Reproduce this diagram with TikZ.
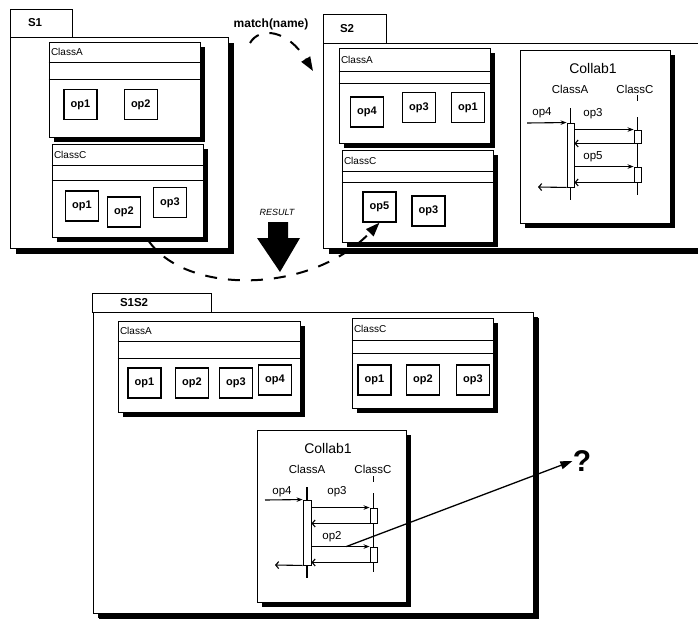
\documentclass[tikz,border=0pt]{standalone}
\usepackage{fontspec}
\setmainfont{Liberation Sans}
\usetikzlibrary{arrows.meta,positioning,shadows}

\begin{document}
\begin{tikzpicture}[x=1pt, y=-1pt, line width=0.9pt,
  hardshadow/.style={drop shadow={shadow xshift=#1, shadow yshift=-#1, fill=black, opacity=1}},
  pkgtab/.style={draw, fill=white, inner sep=0pt},
  pkgname/.style={anchor=west, inner sep=0pt, font=\bfseries\fontsize{11.5}{13}\selectfont},
  pkgbody/.style={draw, fill=white, inner sep=0pt, hardshadow=6pt},
  classbox/.style={draw, fill=white, inner sep=0pt, hardshadow=5pt},
  classname/.style={anchor=west, inner sep=2pt, font=\fontsize{10}{12}\selectfont},
  opbox/.style={draw, fill=white, line width=1.3pt, minimum width=33, minimum height=30, inner sep=0pt, font=\bfseries\fontsize{11}{13}\selectfont},
  colltitle/.style={inner sep=1pt, font=\fontsize{14}{16}\selectfont},
  lifename/.style={inner sep=1pt, font=\fontsize{11.5}{13}\selectfont},
  lifeline/.style={line width=1.3pt},
  actbar/.style={draw, fill=white, inner sep=0pt, minimum width=7},
  msg/.style={inner sep=1pt, font=\fontsize{11.5}{13}\selectfont},
  call/.style={line width=1.1pt, -{Stealth[length=6pt,width=4.5pt]}},
  ret/.style={line width=1.1pt, -{Straight Barb[length=3pt,width=7pt]}},
  flow/.style={line width=2pt, dash pattern=on 12pt off 11pt, -{Triangle[length=14pt,width=10pt]}}]
  \fill[white] (0,0) rectangle (698,618);
  \useasboundingbox (0,0) rectangle (698,618);
  \clip (0,0) rectangle (698,618);

  % package S1
  \node[pkgtab, minimum width=62, minimum height=28] (s1tab) at (41,23) {};
  \node[pkgname] (s1name) at ([xshift=18pt]s1tab.west) {S1};
  \node[pkgbody, minimum width=218, minimum height=211] (s1) at (119,142.5) {};

  \node[classbox, minimum width=151, minimum height=95] (s1a) at (124.5,89.5) {};
  \node[classname] (s1aname) at ([yshift=-10.5pt]s1a.north west) {ClassA};
  \draw ([yshift=-21pt]s1a.north west) -- ([yshift=-21pt]s1a.north east);
  \draw ([yshift=-38pt]s1a.north west) -- ([yshift=-38pt]s1a.north east);
  \node[opbox] (s1a1) at (80.5,104.5) {op1};
  \node[opbox, right=26pt of s1a1] (s1a2) {op2};

  \node[classbox, minimum width=151, minimum height=93] (s1c) at (127.5,190.5) {};
  \node[classname] (s1cname) at ([yshift=-11pt]s1c.north west) {ClassC};
  \draw ([yshift=-22pt]s1c.north west) -- ([yshift=-22pt]s1c.north east);
  \draw ([yshift=-37pt]s1c.north west) -- ([yshift=-37pt]s1c.north east);
  \node[opbox] (s1c1) at (82,206) {op1};
  \node[opbox] (s1c2) at (124,212) {op2};
  \node[opbox] (s1c3) at (170,202.5) {op3};

  % package S2
  \node[pkgtab, minimum width=63, minimum height=29] (s2tab) at (354.5,28.5) {};
  \node[pkgname] (s2name) at ([xshift=17pt]s2tab.west) {S2};
  \node[pkgbody, minimum width=390, minimum height=205] (s2) at (518,145.5) {};

  \node[classbox, minimum width=151, minimum height=95] (s2a) at (414.5,95.5) {};
  \node[classname] (s2aname) at ([yshift=-12pt]s2a.north west) {ClassA};
  \draw ([yshift=-24pt]s2a.north west) -- ([yshift=-24pt]s2a.north east);
  \draw ([yshift=-36pt]s2a.north west) -- ([yshift=-36pt]s2a.north east);
  \node[opbox, line width=1.8pt] (s2a4) at (367,112) {op4};
  \node[opbox] (s2a3) at (419,107.5) {op3};
  \node[opbox] (s2a1) at (468,107.5) {op1};

  \node[classbox, minimum width=151, minimum height=92] (s2c) at (417.5,196) {};
  \node[classname] (s2cname) at ([yshift=-11pt]s2c.north west) {ClassC};
  \draw ([yshift=-22pt]s2c.north west) -- ([yshift=-22pt]s2c.north east);
  \draw ([yshift=-33pt]s2c.north west) -- ([yshift=-33pt]s2c.north east);
  \node[opbox] (s2c5) at (379.5,207) {op5};
  \node[opbox] (s2c3) at (428.5,211) {op3};

  % Collab1 in S2
  \node[classbox, minimum width=150, minimum height=173] (s2k) at (595,136.5) {};
  \node[colltitle] (s2ktitle) at (593,68) {Collab1};
  \node[lifename] (s2ka) at (570,89) {ClassA};
  \node[lifename] (s2kc) at (635,89) {ClassC};
  \draw[lifeline] (570.5,108) -- (570.5,200);
  \draw[lifeline] (637.5,95) -- (637.5,101) (637.5,117) -- (637.5,195);
  \node[actbar, minimum height=64] (s2bar) at (570.5,155) {};
  \node[actbar, minimum height=13] (s2box1) at (637.5,136.5) {};
  \node[actbar, minimum height=15] (s2box2) at (637.5,174.5) {};
  \coordinate (s2in) at (527,123);
  \coordinate (s2out) at (538,187);
  \draw[call] (s2in) -- (s2bar.north west);
  \draw[call] (s2bar.east |- s2box1.north) -- (s2box1.north west);
  \draw[ret] (s2box1.south west) -- (s2bar.east |- s2box1.south);
  \draw[call] (s2bar.east |- s2box2.north) -- (s2box2.north west);
  \draw[ret] (s2box2.south west) -- (s2bar.east |- s2box2.south);
  \draw[ret] (s2bar.south west) -- (s2out);
  \node[msg] (s2m4) at (542,113) {op4};
  \node[msg] (s2m3) at (593,114) {op3};
  \node[msg] (s2m5) at (593,157) {op5};

  % package S1S2
  \node[pkgtab, minimum width=119, minimum height=19] (rtab) at (151.5,302.5) {};
  \node[pkgname] (rname) at ([xshift=28pt]rtab.west) {S1S2};
  \node[pkgbody, hardshadow=5pt, minimum width=440, minimum height=301] (r) at (313,462.5) {};

  \node[classbox, minimum width=182, minimum height=91] (ra) at (209,366.5) {};
  \node[classname] (raname) at ([yshift=-10.5pt]ra.north west) {ClassA};
  \draw ([yshift=-21pt]ra.north west) -- ([yshift=-21pt]ra.north east);
  \draw ([yshift=-38pt]ra.north west) -- ([yshift=-38pt]ra.north east);
  \node[opbox] (ra1) at (144.5,383) {op1};
  \node[opbox] (ra2) at (192,383) {op2};
  \node[opbox] (ra3) at (236,383) {op3};
  \node[opbox] (ra4) at (275,380) {op4};

  \node[classbox, minimum width=141, minimum height=90] (rc) at (422.5,363) {};
  \node[classname] (rcname) at ([yshift=-11pt]rc.north west) {ClassC};
  \draw ([yshift=-23pt]rc.north west) -- ([yshift=-23pt]rc.north east);
  \draw ([yshift=-36pt]rc.north west) -- ([yshift=-36pt]rc.north east);
  \node[opbox] (rc1) at (374.5,380) {op1};
  \node[opbox] (rc2) at (423,380) {op2};
  \node[opbox] (rc3) at (473,380) {op3};

  % Collab1 in S1S2
  \node[classbox, minimum width=149, minimum height=172] (rk) at (331.5,516) {};
  \node[colltitle] (rktitle) at (328,448) {Collab1};
  \node[lifename] (rka) at (307,469) {ClassA};
  \node[lifename] (rkc) at (373,469) {ClassC};
  \draw[lifeline] (307,487) -- (307,578);
  \draw[lifeline] (373.5,476) -- (373.5,482) (373.5,493) -- (373.5,572);
  \node[actbar, minimum width=8, minimum height=65] (rbar) at (307,532.5) {};
  \node[actbar, minimum height=15] (rbox1) at (373.5,515.5) {};
  \node[actbar, minimum height=15] (rbox2) at (373.5,554.5) {};
  \coordinate (rin) at (265,500);
  \coordinate (rout) at (275,565);
  \draw[call] (rin) -- (rbar.north west);
  \draw[call] (rbar.east |- rbox1.north) -- (rbox1.north west);
  \draw[ret] (rbox1.south west) -- (rbar.east |- rbox1.south);
  \draw[call] (rbar.east |- rbox2.north) -- coordinate[pos=0.6] (rq0) (rbox2.north west);
  \draw[ret] (rbox2.south west) -- (rbar.east |- rbox2.south);
  \draw[ret] (rbar.south west) -- (rout);
  \node[msg] (rm4) at (282,492) {op4};
  \node[msg] (rm3) at (337,492) {op3};
  \node[msg] (rm2) at (332,537) {op2};

  \node[inner sep=0pt, font=\bfseries\fontsize{30}{30}\selectfont] (qmark) at (582,461) {?};
  \draw[line width=1.3pt, -{Triangle[length=12pt,width=8pt]}] (rq0) -- (qmark.west);

  % match and result
  \node[font=\bfseries\fontsize{12}{14}\selectfont, inner sep=1pt] (match) at (271,24) {match(name)};
  \coordinate (m0) at (250,43);
  \coordinate (m1) at (313,71);
  \draw[flow] (m0) .. controls (260,26) and (288,30) .. (m1);

  \node[font=\itshape\fontsize{9}{11}\selectfont, inner sep=1pt] (result) at (277,212) {RESULT};
  \fill (268,222) -- (288,222) -- (288,238) -- (300,238) -- (280,272) -- (257,238) -- (268,238) -- cycle;
  \coordinate (r0) at (148,240);
  \draw[flow] (r0) .. controls (185,295) and (310,295) .. (s2c5.south);
\end{tikzpicture}
\end{document}
